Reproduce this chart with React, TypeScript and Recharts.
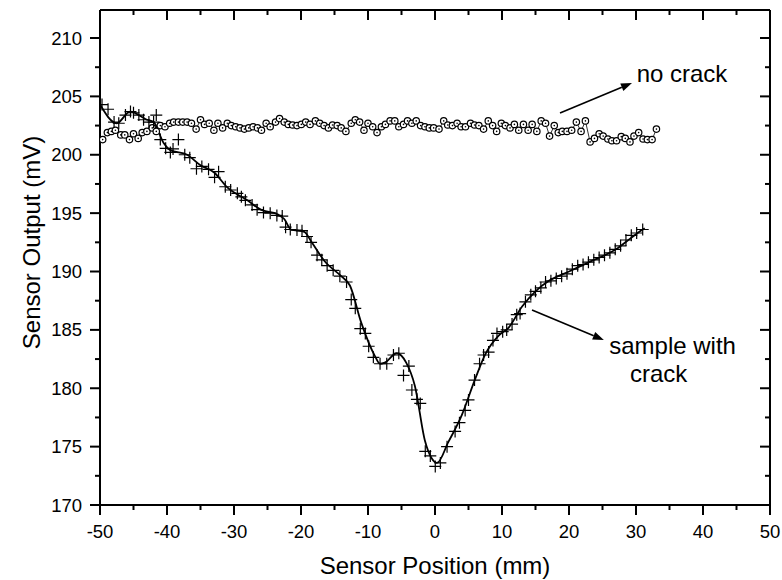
import React from 'react';
import { ComposedChart, XAxis, YAxis, Scatter, Line, ReferenceLine, ReferenceDot } from 'recharts';

// Sample with crack (+ markers)
const crackPos = [-49.7, -48.8, -47.9, -47.2, -46.2, -45.45, -45.0, -44.2, -43.5, -42.7, -42.0, -41.6, -41.0, -40.2, -39.5, -39.1, -38.3, -37.35, -36.6, -35.6, -34.8, -33.8, -32.9, -32.3, -31.3, -30.5, -29.5, -28.9, -28.3, -27.3, -26.55, -25.6, -24.6, -23.6, -22.8, -22.3, -21.6, -20.6, -19.85, -19.1, -18.5, -17.6, -16.9, -16.1, -15.2, -14.2, -13.2, -12.5, -11.9, -11.15, -10.4, -9.9, -9.2, -8.2, -7.2, -6.2, -5.4, -4.7, -3.9, -3.45, -2.7, -2.2, -1.45, -0.7, 0.04, 0.8, 1.8, 3.0, 3.65, 4.5, 5.0, 5.9, 6.65, 7.25, 8.0, 8.65, 9.25, 10.1, 10.7, 11.5, 12.2, 12.7, 13.5, 14.3, 15.0, 15.8, 16.5, 17.3, 18.1, 18.9, 19.7, 20.5, 21.3, 22.1, 22.9, 23.7, 24.5, 25.3, 26.1, 26.9, 27.7, 28.5, 29.3, 30.1, 31.0];
const crackOut = [204.3, 203.9, 202.8, 202.7, 203.4, 203.7, 203.6, 203.4, 203.0, 202.8, 202.8, 203.4, 201.3, 200.55, 200.2, 200.5, 201.3, 200.0, 199.75, 198.8, 199.0, 198.75, 198.07, 198.55, 197.26, 196.98, 196.7, 196.4, 196.1, 195.7, 195.3, 195.05, 195.0, 194.8, 194.75, 193.8, 193.6, 193.55, 193.5, 193.0, 192.5, 191.4, 191.0, 190.5, 190.1, 189.6, 189.1, 187.6, 186.85, 185.1, 184.7, 183.6, 182.65, 182.1, 182.1, 182.85, 183.0, 181.1, 181.9, 179.85, 179.05, 178.7, 174.6, 174.2, 173.3, 173.6, 175.0, 176.3, 177.05, 178.1, 179.0, 180.7, 182.1, 182.85, 183.1, 184.1, 184.7, 184.85, 185.0, 185.5, 186.3, 186.4, 187.4, 188.0, 188.3, 188.6, 189.1, 189.2, 189.4, 189.6, 189.8, 190.2, 190.5, 190.6, 190.8, 191.0, 191.2, 191.4, 191.6, 191.9, 192.2, 192.7, 193.1, 193.3, 193.6];

// Smoothed curve through the crack data
const curvePos = [-50, -47.5, -45.5, -43, -42, -40.5, -39.5, -37, -35, -33, -31, -28, -26, -23.5, -22.5, -21.5, -19.5, -18.5, -16.5, -14, -12.7, -11, -9, -8.2, -7.5, -5.7, -4.3, -3, -1.5, -0.5, 0.3, 2, 4, 6, 7.5, 9.5, 11, 13, 15, 17, 20, 23, 27, 30, 31.3];
const curveOut = [204.3, 202.7, 203.7, 203.0, 202.8, 201.0, 200.4, 200.0, 199.1, 198.5, 197.2, 196.1, 195.3, 194.9, 194.5, 193.6, 193.4, 192.6, 190.9, 189.6, 188.8, 185.6, 182.8, 182.1, 182.2, 183.0, 182.2, 180.2, 175.5, 174.0, 173.6, 175.4, 177.7, 180.8, 182.9, 184.5, 185.2, 187.0, 188.3, 189.2, 190.0, 190.8, 191.9, 193.2, 193.7];

// No crack (o markers)
const noCrackPos = [-49.6, -48.9, -48.3, -47.7, -46.9, -46.3, -45.6, -45.0, -44.3, -43.7, -43.0, -42.2, -41.6, -41.0, -40.3, -39.6, -39.0, -38.3, -37.65, -37.0, -36.35, -35.65, -35.0, -34.4, -33.7, -33.0, -32.4, -31.7, -31.0, -30.4, -29.75, -29.1, -28.45, -27.8, -27.15, -26.5, -25.9, -25.2, -24.6, -23.8, -23.2, -22.5, -21.9, -21.25, -20.6, -19.95, -19.3, -18.65, -17.85, -17.2, -16.55, -15.9, -15.3, -14.6, -14.0, -13.3, -12.5, -11.9, -11.25, -10.6, -10.0, -9.3, -8.65, -8.0, -7.4, -6.7, -6.0, -5.4, -4.7, -4.1, -3.45, -2.8, -2.15, -1.5, -0.85, -0.2, 0.6, 1.3, 1.9, 2.6, 3.3, 3.9, 4.55, 5.3, 5.9, 6.55, 7.25, 7.95, 8.6, 9.2, 9.9, 10.5, 11.2, 11.85, 12.5, 13.2, 13.9, 14.5, 15.2, 15.85, 16.5, 17.1, 17.8, 18.4, 19.0, 19.7, 20.4, 21.1, 21.8, 22.45, 23.15, 23.8, 24.5, 25.1, 25.8, 26.4, 27.1, 27.8, 28.4, 29.1, 29.7, 30.4, 31.05, 31.7, 32.4, 33.05];
const noCrackOut = [201.3, 201.9, 202.0, 202.1, 201.7, 201.7, 201.3, 201.8, 201.4, 201.9, 202.0, 202.3, 202.0, 202.5, 202.4, 202.7, 202.8, 202.8, 202.8, 202.8, 202.7, 202.2, 203.0, 202.6, 202.7, 202.1, 202.7, 202.3, 202.7, 202.5, 202.4, 202.3, 202.2, 202.3, 202.4, 202.3, 202.1, 202.7, 202.4, 202.8, 203.1, 202.8, 202.6, 202.55, 202.5, 202.6, 202.8, 202.6, 202.9, 202.7, 202.5, 202.3, 202.55, 202.5, 202.3, 202.0, 202.7, 203.0, 202.8, 202.1, 202.7, 202.4, 201.9, 202.4, 202.6, 202.9, 202.9, 202.4, 202.6, 202.9, 202.7, 202.9, 202.5, 202.4, 202.3, 202.3, 202.2, 202.9, 202.55, 202.5, 202.7, 202.4, 202.4, 202.7, 202.55, 202.5, 202.2, 202.9, 202.5, 202.0, 202.7, 202.5, 202.3, 202.6, 202.1, 202.6, 202.1, 202.6, 202.0, 202.9, 202.7, 201.6, 202.5, 201.9, 202.0, 202.0, 202.1, 202.8, 202.0, 202.9, 201.1, 201.4, 201.8, 201.6, 201.35, 201.2, 201.2, 201.55, 201.4, 201.1, 201.6, 201.9, 201.35, 201.3, 201.3, 202.2];

const xMajor = [-50, -40, -30, -20, -10, 0, 10, 20, 30, 40, 50];
const xMinor = [-45, -35, -25, -15, -5, 5, 15, 25, 35, 45];
const yMajor = [170, 175, 180, 185, 190, 195, 200, 205, 210];
const yMinor = [172.5, 177.5, 182.5, 187.5, 192.5, 197.5, 202.5, 207.5];

const crackData = crackPos.map((x, i) => ({ x, y: crackOut[i] }));
const curveData = curvePos.map((x, i) => ({ x, y: curveOut[i] }));
const noCrackData = noCrackPos.map((x, i) => ({ x, y: noCrackOut[i] }));

const xTicks = [...xMajor, ...xMinor].sort((a, b) => a - b);
const yTicks = [...yMajor, ...yMinor].sort((a, b) => a - b);

const FONT = '"Liberation Sans", Arial, Helvetica, sans-serif';

// tick-mark renderers (mirror axes, tickSize 0 / tickMargin 0 -> props x/y sit on the axis line)
const tickLen = (v: number, majors: number[]) => (majors.indexOf(v) >= 0 ? 10 : 5);

const BottomMark = (props: any) => {
  const px = Number(props.x);
  const py = Number(props.y);
  const len = tickLen(props.payload.value, xMajor);
  return <path d={`M${px},${py}V${py + len}`} stroke="#000" strokeWidth={2} fill="none" />;
};
const TopMark = (props: any) => {
  const px = Number(props.x);
  const py = Number(props.y);
  const len = tickLen(props.payload.value, xMajor);
  return <path d={`M${px},${py}V${py + len}`} stroke="#000" strokeWidth={2} fill="none" />;
};
const LeftMark = (props: any) => {
  const px = Number(props.x);
  const py = Number(props.y);
  const len = tickLen(props.payload.value, yMajor);
  return <path d={`M${px - len},${py}H${px}`} stroke="#000" strokeWidth={2} fill="none" />;
};
const RightMark = (props: any) => {
  const px = Number(props.x);
  const py = Number(props.y);
  const len = tickLen(props.payload.value, yMajor);
  return <path d={`M${px - len},${py}H${px}`} stroke="#000" strokeWidth={2} fill="none" />;
};

// tick-label renderers (labels only)
const BottomLabel = (props: any) => {
  const v = props.payload.value;
  if (xMajor.indexOf(v) < 0) return <g />;
  return (
    <text x={props.x} y={Number(props.y) + 2} dy="0.71em" textAnchor="middle" fontSize={18.5} fontFamily={FONT} fill="#000">{v}</text>
  );
};
const LeftLabel = (props: any) => {
  const v = props.payload.value;
  if (yMajor.indexOf(v) < 0) return <g />;
  return (
    <text x={props.x} y={props.y} dy="0.355em" textAnchor="end" fontSize={18.5} fontFamily={FONT} fill="#000">{v}</text>
  );
};

const CrossShape = (p: any) => (
  <path d={`M${p.cx - 6},${p.cy}H${p.cx + 6}M${p.cx},${p.cy - 6}V${p.cy + 6}`} stroke="#000" strokeWidth={1.2} fill="none" />
);

const CircleShape = (p: any) => (
  <g>
    <circle cx={p.cx} cy={p.cy} r={3.2} fill="#fff" stroke="#000" strokeWidth={1.2} />
    <circle cx={p.cx} cy={p.cy} r={0.8} fill="#000" />
  </g>
);

const NoShape = () => <g />;

const Arrow = (p: any) => {
  const { x1, y1, x2, y2 } = p;
  const a = Math.atan2(y2 - y1, x2 - x1);
  const L = 11;
  const W = 4;
  const bx = x2 - L * Math.cos(a);
  const by = y2 - L * Math.sin(a);
  const qx = -Math.sin(a) * W;
  const qy = Math.cos(a) * W;
  return (
    <g>
      <line x1={x1} y1={y1} x2={bx} y2={by} stroke="#000" strokeWidth={1.6} />
      <polygon points={`${x2},${y2} ${bx + qx},${by + qy} ${bx - qx},${by - qy}`} fill="#000" />
    </g>
  );
};

const makeText = (t: string) => (p: any) => (
  <text x={p.cx} y={p.cy} fontSize={24} fontFamily={FONT} fill="#000" textAnchor="start">{t}</text>
);

export default function App() {
  return (
    <div style={{ position: 'absolute', left: 0, top: 0, width: 782, height: 580, background: '#fff' }}>
      <ComposedChart width={782} height={580} margin={{ top: 10, right: 12, left: 0, bottom: 0 }}>
        {/* label axes */}
        <XAxis xAxisId="b" dataKey="x" type="number" orientation="bottom" domain={[-50, 50]} allowDataOverflow ticks={xTicks} interval={0} height={75} tickSize={0} tickMargin={18} tickLine={false} axisLine={{ stroke: '#000', strokeWidth: 2 }} tick={BottomLabel} />
        <YAxis yAxisId="l" type="number" orientation="left" domain={[170, 212.4]} allowDataOverflow ticks={yTicks} interval={0} width={100} tickSize={0} tickMargin={18} tickLine={false} axisLine={{ stroke: '#000', strokeWidth: 2 }} tick={LeftLabel} />
        {/* frame axes with tick marks */}
        <XAxis xAxisId="bm" dataKey="x" type="number" orientation="bottom" mirror domain={[-50, 50]} allowDataOverflow ticks={xTicks} interval={0} tickSize={0} tickMargin={0} tickLine={false} axisLine={false} tick={BottomMark} />
        <YAxis yAxisId="lm" type="number" orientation="left" mirror domain={[170, 212.4]} allowDataOverflow ticks={yTicks} interval={0} tickSize={0} tickMargin={0} tickLine={false} axisLine={false} tick={LeftMark} />
        <XAxis xAxisId="t" dataKey="x" type="number" orientation="top" mirror domain={[-50, 50]} allowDataOverflow ticks={xTicks} interval={0} tickSize={0} tickMargin={0} tickLine={false} axisLine={{ stroke: '#000', strokeWidth: 2 }} tick={TopMark} />
        <YAxis yAxisId="r" type="number" orientation="right" mirror domain={[170, 212.4]} allowDataOverflow ticks={yTicks} interval={0} tickSize={0} tickMargin={0} tickLine={false} axisLine={{ stroke: '#000', strokeWidth: 2 }} tick={RightMark} />
        <Scatter xAxisId="t" yAxisId="r" data={noCrackData} dataKey="y" shape={NoShape} isAnimationActive={false} />
        <Scatter xAxisId="bm" yAxisId="lm" data={noCrackData} dataKey="y" shape={NoShape} isAnimationActive={false} />
        <Scatter xAxisId="b" yAxisId="l" data={noCrackData} dataKey="y" line={{ stroke: '#000', strokeWidth: 0.8 }} lineJointType="linear" shape={CircleShape} isAnimationActive={false} />
        <Line xAxisId="b" yAxisId="l" data={curveData} dataKey="y" type="monotone" dot={false} stroke="#000" strokeWidth={1.8} isAnimationActive={false} />
        <Scatter xAxisId="b" yAxisId="l" data={crackData} dataKey="y" shape={CrossShape} isAnimationActive={false} />
        <ReferenceLine xAxisId="b" yAxisId="l" segment={[{ x: 18.66, y: 203.58 }, { x: 29.4, y: 206.15 }]} shape={Arrow} ifOverflow="visible" />
        <ReferenceLine xAxisId="b" yAxisId="l" segment={[{ x: 14.48, y: 186.7 }, { x: 25.2, y: 184.13 }]} shape={Arrow} ifOverflow="visible" />
        <ReferenceDot xAxisId="b" yAxisId="l" x={30.1} y={206.26} r={0} shape={makeText('no crack')} ifOverflow="visible" />
        <ReferenceDot xAxisId="b" yAxisId="l" x={26.0} y={182.93} r={0} shape={makeText('sample with')} ifOverflow="visible" />
        <ReferenceDot xAxisId="b" yAxisId="l" x={29.1} y={180.56} r={0} shape={makeText('crack')} ifOverflow="visible" />
      </ComposedChart>
      <svg width={782} height={580} style={{ position: 'absolute', left: 0, top: 0, pointerEvents: 'none' }}>
        <text x={435} y={574} textAnchor="middle" fontSize={24} fontFamily={FONT} fill="#000">
          Sensor Position (mm)
        </text>
        <text x={40} y={242.5} transform="rotate(-90 40 242.5)" textAnchor="middle" fontSize={24} fontFamily={FONT} fill="#000">
          Sensor Output (mV)
        </text>
      </svg>
    </div>
  );
}
